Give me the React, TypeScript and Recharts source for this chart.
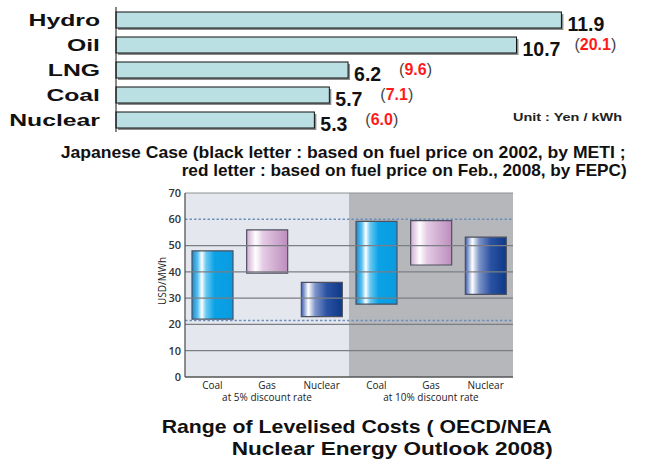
import React from 'react';
import { BarChart, Bar, XAxis, YAxis, LabelList, ReferenceArea, ReferenceLine, Cell } from 'recharts';

// Japanese generation cost (Yen / kWh)
const fuels = ['Hydro', 'Oil', 'LNG', 'Coal', 'Nuclear'];
const meti2002 = [11.9, 10.7, 6.2, 5.7, 5.3];
const fepc2008: (number | null)[] = [null, 20.1, 9.6, 7.1, 6.0];

// OECD/NEA levelised cost ranges (USD/MWh)
const costIds = ['coal5', 'gas5', 'nuclear5', 'coal10', 'gas10', 'nuclear10'];
const costNames = ['Coal', 'Gas', 'Nuclear', 'Coal', 'Gas', 'Nuclear'];
const costFuels = ['coal', 'gas', 'nuclear', 'coal', 'gas', 'nuclear'];
const costLow = [22, 39.5, 23, 27.7, 42.6, 31.4];
const costHigh = [48, 56, 36, 59.2, 59.5, 53.2];
const rateGroups = ['at 5% discount rate', 'at 10% discount rate'];
const yTicks = [0, 10, 20, 30, 40, 50, 60, 70];
const gridValues = [10, 20, 30, 40, 50];
const rangeBand = [21.5, 60];

const topData = fuels.map((fuel, i) => ({ fuel, meti: meti2002[i] }));
const costData = costIds.map((id, i) => ({ id, fuel: costFuels[i], range: [costLow[i], costHigh[i]] }));

const ARIAL = "'Liberation Sans', Arial, sans-serif";

function FuelTick({ x, y, payload }: any) {
  return (
    <g transform={`translate(${x},${y + 6}) scale(1.5,1)`}>
      <text textAnchor="end" fontFamily={ARIAL} fontWeight="bold" fontSize={16.5} fill="#111">
        {payload.value}
      </text>
    </g>
  );
}

function ShadowBar({ x, y, width, height }: any) {
  return (
    <g>
      <rect x={x + 2} y={y + 2} width={width} height={height} fill="#8c8c8c" />
      <rect x={x} y={y} width={width} height={height} fill="#bae0e3" stroke="#111" strokeWidth={1} />
    </g>
  );
}

// black 2002 figure right of the bar, red 2008 figure in brackets after it
function CostLabel({ x, y, width, height, index }: any) {
  const cy = y + height / 2;
  const value = meti2002[index].toFixed(1);
  const red = fepc2008[index];
  const startX = x + width + 6;
  const redX = startX + (value.length >= 4 ? 52 : 45);
  return (
    <g>
      <text x={startX} y={cy + 10.5} fontFamily={ARIAL} fontWeight="bold" fontSize={19.5} fill="#111">
        {value}
      </text>
      {red != null && (
        <text x={redX} y={cy + 5} fontFamily={ARIAL}>
          <tspan fontWeight={400} fontSize={16} fill="#444">(</tspan>
          <tspan fontWeight="bold" fontSize={16} fill="#ff1a1a">{red.toFixed(1)}</tspan>
          <tspan fontWeight={400} fontSize={16} fill="#444">)</tspan>
        </text>
      )}
    </g>
  );
}

function RateTick({ x, y, payload }: any) {
  const i = payload.index;
  return (
    <g fontFamily="'Open Sans', sans-serif" fontSize={10} fill="#222">
      <text x={x} y={y + 11.5} textAnchor="middle">{costNames[i]}</text>
      {i % 3 === 1 && (
        <text x={x} y={y + 24} textAnchor="middle">{rateGroups[Math.floor(i / 3)]}</text>
      )}
    </g>
  );
}

export default function App() {
  return (
    <div style={{ position: 'absolute', left: 0, top: 0, width: 646, height: 462, background: '#fff', overflow: 'hidden' }}>
      <svg width={0} height={0} style={{ position: 'absolute' }}>
        <defs>
          <linearGradient id="grad-coal" x1="0" y1="0" x2="1" y2="0">
            <stop offset="0%" stopColor="#1689cc" />
            <stop offset="14%" stopColor="#5cc2f0" />
            <stop offset="24%" stopColor="#ffffff" />
            <stop offset="34%" stopColor="#6ccaf2" />
            <stop offset="55%" stopColor="#0aa2e6" />
            <stop offset="100%" stopColor="#0a9be0" />
          </linearGradient>
          <linearGradient id="grad-gas" x1="0" y1="0" x2="1" y2="0">
            <stop offset="0%" stopColor="#d2acd2" />
            <stop offset="22%" stopColor="#ffffff" />
            <stop offset="40%" stopColor="#e4cbe4" />
            <stop offset="100%" stopColor="#bd8dbd" />
          </linearGradient>
          <linearGradient id="grad-nuclear" x1="0" y1="0" x2="1" y2="0">
            <stop offset="0%" stopColor="#3a5cad" />
            <stop offset="17%" stopColor="#ffffff" />
            <stop offset="34%" stopColor="#7d93c8" />
            <stop offset="62%" stopColor="#2a52a2" />
            <stop offset="100%" stopColor="#0d3987" />
          </linearGradient>
        </defs>
      </svg>

      <div style={{ position: 'absolute', left: 0, top: 0 }}>
        <BarChart layout="vertical" width={646} height={135} data={topData} margin={{ top: 7, right: 6, bottom: 3, left: 0 }}>
          <XAxis type="number" domain={[0, 14]} hide />
          <YAxis
            type="category"
            dataKey="fuel"
            width={116}
            axisLine={{ stroke: '#111' }}
            tickLine={false}
            tickSize={0}
            tickMargin={16}
            tick={<FuelTick />}
          />
          <Bar dataKey="meti" barSize={16} shape={<ShadowBar />} isAnimationActive={false}>
            <LabelList dataKey="meti" content={<CostLabel />} />
          </Bar>
        </BarChart>
      </div>

      <div style={{ position: 'absolute', left: 0, top: 185 }}>
        <BarChart width={530} height={222} data={costData} margin={{ top: 8, right: 17, bottom: 0, left: 0 }}>
          <ReferenceArea x1="coal5" x2="nuclear5" fill="#e4e8ee" fillOpacity={1} stroke="none" />
          <ReferenceArea x1="coal10" x2="nuclear10" fill="#b5b7ba" fillOpacity={1} stroke="none" />
          {gridValues.map((v) => (
            <ReferenceLine key={v} y={v} stroke="#7b7e83" strokeWidth={1.2} />
          ))}
          <ReferenceLine y={70} stroke="#8d9094" strokeWidth={1} />
          {rangeBand.map((v) => (
            <ReferenceLine key={`band-${v}`} y={v} stroke="#6f8fb8" strokeWidth={1.6} strokeDasharray="2.5 2" />
          ))}
          <XAxis
            dataKey="id"
            height={30}
            axisLine={{ stroke: '#555', strokeWidth: 1.3 }}
            tickLine={false}
            tickSize={0}
            tickMargin={0}
            interval={0}
            tick={<RateTick />}
          />
          <YAxis
            type="number"
            domain={[0, 70]}
            ticks={yTicks}
            interval={0}
            width={185}
            axisLine={{ stroke: '#555', strokeWidth: 1.3 }}
            tickLine={false}
            tickSize={0}
            tickMargin={4}
            tick={{ fontFamily: "'Open Sans', sans-serif", fontSize: 11, fontWeight: 600, fill: '#333' }}
          />
          <Bar dataKey="range" barSize={41} stroke="#4e5060" strokeWidth={1.2} isAnimationActive={false}>
            {costData.map((d) => (
              <Cell key={d.id} fill={`url(#grad-${d.fuel})`} />
            ))}
          </Bar>
        </BarChart>
      </div>

      <svg width={646} height={462} style={{ position: 'absolute', left: 0, top: 0, pointerEvents: 'none' }}>
        <text x={513} y={120.7} textLength={109} lengthAdjust="spacingAndGlyphs" fontFamily={ARIAL} fontWeight="bold" fontSize={11} fill="#222">
          Unit : Yen / kWh
        </text>
        <g fontFamily={ARIAL} fontWeight="bold" fontSize={17} fill="#111">
          <text x={60.7} y={158} textLength={565} lengthAdjust="spacingAndGlyphs">
            Japanese Case (black letter : based on fuel price on 2002, by METI ;
          </text>
          <text x={181.7} y={175.7} textLength={445} lengthAdjust="spacingAndGlyphs">
            red letter : based on fuel price on Feb., 2008, by FEPC)
          </text>
        </g>
        <text
          x={162}
          y={281}
          transform="rotate(-90 162 281)"
          textAnchor="middle"
          dominantBaseline="central"
          fontFamily="'Open Sans', sans-serif"
          fontSize={10}
          fill="#222"
        >
          USD/MWh
        </text>
        <g fontFamily={ARIAL} fontWeight="bold" fontSize={18.5} fill="#111" style={{ whiteSpace: 'pre' }}>
          <text x={161.7} y={433.3} textLength={390} lengthAdjust="spacingAndGlyphs">
            {'Range of Levelised Costs ( OECD/NEA'}
          </text>
          <text x={231.7} y={455} textLength={321} lengthAdjust="spacingAndGlyphs">
            {'Nuclear  Energy  Outlook  2008)'}
          </text>
        </g>
      </svg>
    </div>
  );
}
